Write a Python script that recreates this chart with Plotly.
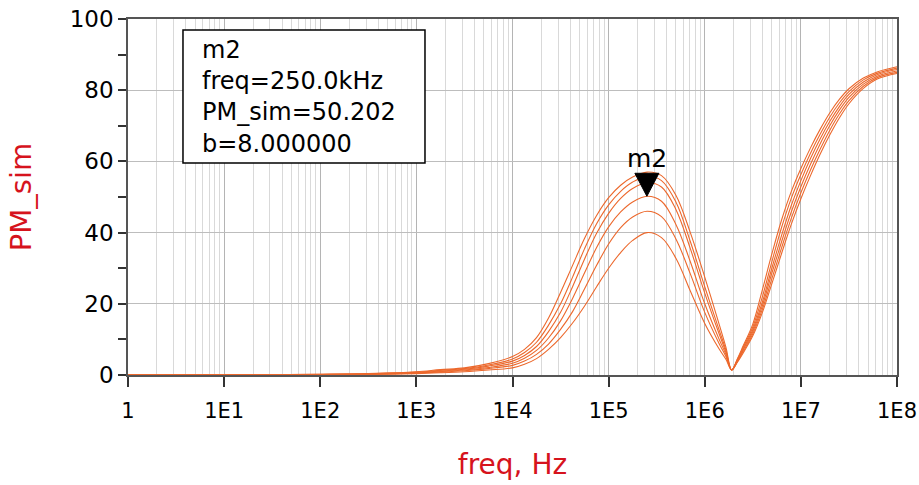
import math
import plotly.graph_objects as go

# ---- data ----
freq_hz = [1, 10, 100, 316.2, 1000, 1778, 3162, 5623,
           1.0e4, 1.334e4, 1.778e4, 2.371e4, 3.162e4, 4.217e4, 5.623e4, 7.499e4,
           1.0e5, 1.334e5, 1.778e5, 2.512e5, 3.548e5, 5.012e5, 7.079e5,
           1.0e6, 1.413e6, 1.660e6, 1.905e6, 2.188e6, 2.512e6, 3.162e6, 3.981e6,
           5.012e6, 6.310e6, 7.943e6,
           1.0e7, 1.259e7, 1.585e7, 1.995e7, 2.512e7, 3.162e7, 4.467e7, 6.310e7, 1.0e8]

pm_curve1 = [0, 0.05, 0.2, 0.4, 0.9, 1.5, 2.0, 3.2,
             5.2, 7.2, 10.5, 16.0, 23.2, 30.8, 38.4, 44.8,
             49.8, 53.3, 55.6, 57.0, 56.0, 50.5, 40.0,
             27.5, 14.2, 7.8, 1.4, 4.6, 8.2, 14.3, 24.0,
             34.2, 43.6, 51.5,
             58.0, 63.8, 69.0, 73.6, 77.4, 80.4, 83.4, 85.2, 86.6]
pm_curve2 = [0, 0.05, 0.18, 0.35, 0.8, 1.3, 1.8, 2.8,
             4.5, 6.3, 9.2, 14.0, 20.0, 27.5, 35.5, 42.5,
             47.8, 51.6, 54.2, 55.8, 54.6, 48.6, 37.5,
             24.8, 12.6, 7.0, 1.4, 4.4, 7.8, 13.5, 22.0,
             32.0, 41.5, 49.6,
             56.3, 62.3, 67.6, 72.4, 76.4, 79.6, 82.9, 84.8, 86.2]
pm_curve3 = [0, 0.04, 0.16, 0.3, 0.7, 1.1, 1.6, 2.5,
             3.9, 5.5, 8.0, 12.2, 17.6, 24.8, 32.6, 39.8,
             45.4, 49.6, 52.4, 54.0, 52.8, 46.5, 35.5,
             23.0, 11.5, 6.4, 1.4, 4.2, 7.4, 12.8, 20.5,
             30.2, 39.3, 47.6,
             54.6, 60.8, 66.3, 71.2, 75.4, 78.8, 82.3, 84.4, 85.8]
pm_curve4 = [0, 0.04, 0.14, 0.27, 0.6, 0.95, 1.4, 2.1,
             3.3, 4.7, 6.9, 10.4, 15.2, 21.5, 28.7, 35.8,
             41.6, 45.8, 48.6, 50.2, 48.8, 42.3, 31.8,
             20.0, 10.0, 5.8, 1.4, 4.0, 7.0, 12.2, 19.5,
             28.8, 37.5, 45.8,
             52.9, 59.2, 64.9, 70.0, 74.4, 78.0, 81.7, 84.0, 85.4]
pm_curve5 = [0, 0.03, 0.12, 0.23, 0.5, 0.8, 1.2, 1.8,
             2.7, 3.9, 5.8, 8.7, 12.8, 17.8, 24.2, 30.8,
             36.8, 41.4, 44.4, 46.0, 44.5, 38.2, 28.4,
             17.6, 8.8, 5.2, 1.4, 3.8, 6.6, 11.6, 18.5,
             27.2, 35.8, 44.0,
             51.2, 57.6, 63.4, 68.7, 73.3, 77.1, 81.1, 83.6, 85.0]
pm_curve6 = [0, 0.03, 0.1, 0.18, 0.4, 0.62, 0.92, 1.4,
             2.0, 3.0, 4.6, 7.2, 10.5, 14.6, 19.4, 24.8,
             30.0, 34.4, 37.8, 40.0, 38.6, 32.8, 23.6,
             14.5, 7.3, 4.4, 1.4, 3.6, 6.2, 11.0, 17.6,
             25.8, 34.2, 42.3,
             49.5, 56.0, 62.0, 67.4, 72.2, 76.2, 80.5, 83.2, 84.7]

curves = [pm_curve1, pm_curve2, pm_curve3, pm_curve4, pm_curve5, pm_curve6]

marker_freq = 250000.0
marker_pm = 50.202
marker_name = "m2"
marker_lines = ["m2", "freq=250.0kHz", "PM_sim=50.202", "b=8.000000"]

x_tickvals = [1, 10, 100, 1e3, 1e4, 1e5, 1e6, 1e7, 1e8]
x_ticktext = ["1", "1E1", "1E2", "1E3", "1E4", "1E5", "1E6", "1E7", "1E8"]

# ---- figure ----
LINE_COLOR = "rgb(236,104,44)"
RED = "#d6131d"
FONT = "DejaVu Sans"

fig = go.Figure()
for c in curves:
    fig.add_trace(go.Scatter(x=freq_hz, y=c, mode="lines",
                             line=dict(color=LINE_COLOR, width=1.1,
                                       shape="spline", smoothing=1.0),
                             hoverinfo="skip", showlegend=False))

# marker triangle (tip on the data point)
fig.add_shape(type="path", xref="x", yref="y",
              xsizemode="pixel", ysizemode="pixel",
              xanchor=marker_freq, yanchor=marker_pm,
              path="M -12 23 L 12 23 L 0 0 Z",
              fillcolor="black", line=dict(color="black", width=1),
              layer="above")

fig.add_annotation(x=math.log10(marker_freq), y=marker_pm, xref="x", yref="y",
                   text=marker_name, showarrow=False, yshift=38,
                   font=dict(family=FONT, size=25, color="black"))

# marker readout box
fig.add_shape(type="rect", xref="paper", yref="paper",
              x0=0.0715, x1=0.3862, y0=0.5955, y1=0.969,
              line=dict(color="black", width=1.5), fillcolor="white",
              layer="above")
fig.add_annotation(xref="paper", yref="paper", x=0.0936, y=0.7795,
                   xanchor="left", yanchor="middle", align="left",
                   text="<br>".join(marker_lines), showarrow=False,
                   font=dict(family=FONT, size=24, color="black"))

fig.update_layout(
    width=919, height=485,
    margin=dict(l=128, r=22, t=19, b=110, autoexpand=False),
    plot_bgcolor="white", paper_bgcolor="white",
    showlegend=False,
    font=dict(family=FONT, color="black"),
)

fig.update_xaxes(
    type="log", range=[0, 8], automargin=False,
    tickvals=x_tickvals, ticktext=x_ticktext,
    ticks="outside", ticklen=10, tickcolor="#333333", tickwidth=1.5,
    tickfont=dict(family=FONT, size=21, color="black"),
    ticklabelstandoff=6,
    showline=True, linecolor="#555555", linewidth=1.5, mirror=True,
    showgrid=True, gridcolor="#b4b4b4", gridwidth=1,
    minor=dict(dtick="D1", showgrid=True, gridcolor="#d9d9d9", gridwidth=1, ticks=""),
    zeroline=False,
    title=dict(text="freq, Hz", font=dict(family=FONT, size=28, color=RED), standoff=32),
)

fig.update_yaxes(
    range=[0, 100], tick0=0, dtick=20, automargin=False,
    ticks="outside", ticklen=8, tickcolor="#333333", tickwidth=1.5,
    tickfont=dict(family=FONT, size=23, color="black"),
    minor=dict(dtick=10, ticks="outside", ticklen=8, tickcolor="#333333", showgrid=False),
    showline=True, linecolor="#555555", linewidth=1.5, mirror=True,
    showgrid=True, gridcolor="#bdbdbd", gridwidth=1,
    zeroline=False,
    title=dict(text="PM_sim", font=dict(family=FONT, size=29, color=RED), standoff=30),
)

fig.write_html("out.html")
